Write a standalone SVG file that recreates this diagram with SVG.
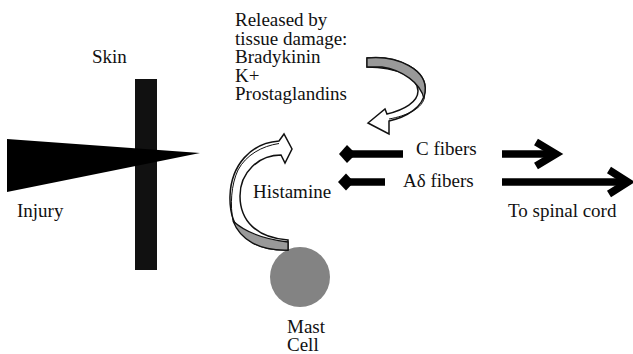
<svg xmlns="http://www.w3.org/2000/svg" width="633" height="354" viewBox="0 0 633 354">
<style>
.lbl { font-family: "Liberation Serif", "Times New Roman", serif; font-size: 19px; fill: #111; }
.ribbon { fill: #fff; stroke: #111; stroke-width: 1.5; }
.twist { fill: #999; stroke: #111; stroke-width: 1.3; }
.thin { fill: none; stroke: #111; stroke-width: 1; }
.fiber { fill: none; stroke: #000; stroke-width: 7.5; }
.head { fill: none; stroke: #000; stroke-width: 7.5; stroke-miterlimit: 6; }
.diamond { fill: #000; }
</style>
<rect width="633" height="354" fill="#fff"/>
<g id="skin">
<rect x="135" y="79" width="22" height="191" fill="#111"/>
<text class="lbl" x="92" y="63" font-family="Liberation Serif" font-size="19">Skin</text>
</g>
<g id="injury">
<polygon points="7,139 200,153 7,192" fill="#000"/>
<text class="lbl" x="17" y="217" font-family="Liberation Serif" font-size="19">Injury</text>
</g>
<g id="released">
<text class="lbl" x="235" y="26" font-family="Liberation Serif" font-size="19">Released by</text>
<text class="lbl" x="235" y="44.5" font-family="Liberation Serif" font-size="19">tissue damage:</text>
<text class="lbl" x="235" y="63" font-family="Liberation Serif" font-size="19">Bradykinin</text>
<text class="lbl" x="235" y="81.5" font-family="Liberation Serif" font-size="19">K+</text>
<text class="lbl" x="235" y="100" font-family="Liberation Serif" font-size="19">Prostaglandins</text>
</g>
<g id="histamine">
<text class="lbl" x="253" y="198" font-family="Liberation Serif" font-size="19">Histamine</text>
</g>
<g id="mast-cell">
<circle cx="300" cy="277" r="30" fill="#838383"/>
<text class="lbl" x="287" y="333" font-family="Liberation Serif" font-size="19">Mast</text>
<text class="lbl" x="287" y="351" font-family="Liberation Serif" font-size="19">Cell</text>
</g>
<g id="c-fibers">
<text class="lbl" x="416" y="155" font-family="Liberation Serif" font-size="19">C fibers</text>
</g>
<g id="adelta-fibers">
<text class="lbl" x="403" y="187" font-family="Liberation Serif" font-size="19">A&#948; fibers</text>
</g>
<g id="spinal-cord">
<text class="lbl" x="508" y="217" font-family="Liberation Serif" font-size="19">To spinal cord</text>
</g>
<g id="connectors">
<path class="ribbon" d="M367,58 C398,55 428,70 425,92 C423,107 407,117 389,121 L389,134 L368,123 L385,109 L387,114 C404,110 418,102 418,91 C418,77 397,67 367,67 Z"/>
<path class="twist" d="M367,58 C398,55 428,70 425,92 L424,99 C421,83 402,70 382,67 L367,67 Z"/>
<path class="thin" d="M424,99 C421,109 406,116 389,119"/>
<path class="ribbon" d="M288,250 C248,251 229,229 230,196 C231,165 251,143 279,141 L284,134 L292,149 L285,163 L281,155 C259,155 240,172 240,196 C240,221 257,238 288,240 Z"/>
<path class="twist" d="M288,250 C258,251 240,239 233,221 C246,233 263,239 288,242 Z"/>
<path class="thin" d="M233,221 C230,205 231,185 238,170 C246,155 262,146 279,143.5"/>
<line class="fiber" x1="352" y1="154" x2="403" y2="154"/>
<polygon class="diamond" points="339,154 347,145 356,154 347,163"/>
<line class="fiber" x1="502" y1="154" x2="555" y2="154"/>
<polyline class="head" points="536,142 556,154 536,166"/>
<line class="fiber" x1="350" y1="182" x2="385" y2="182"/>
<polygon class="diamond" points="338,182 346,173.5 354,182 346,190.5"/>
<line class="fiber" x1="502" y1="182" x2="626" y2="182"/>
<polyline class="head" points="609,170 628,182 609,194"/>
</g>
</svg>
